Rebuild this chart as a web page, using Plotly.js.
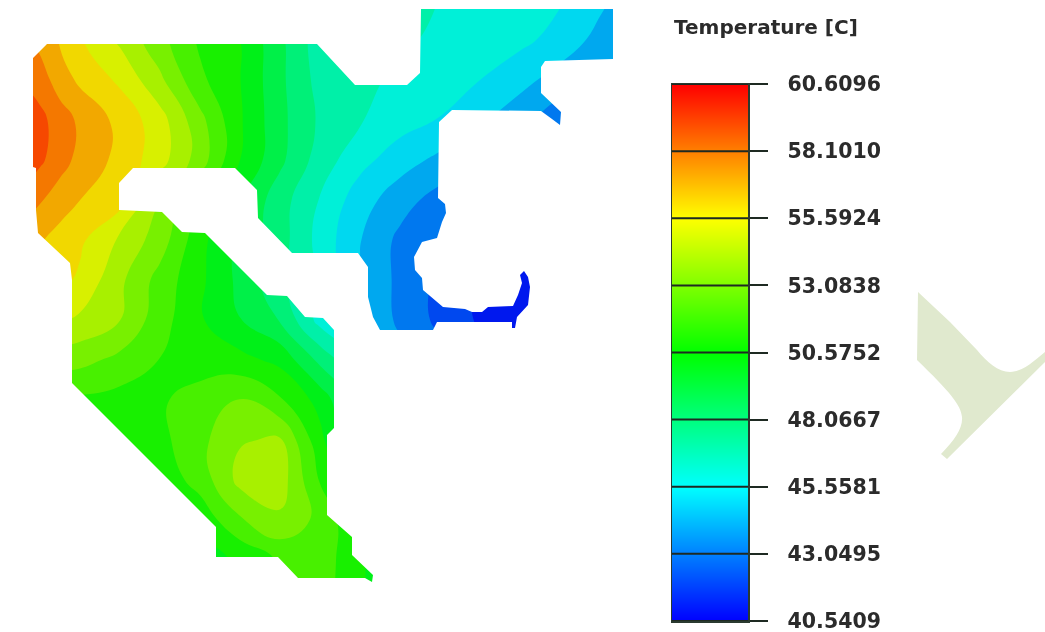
<!DOCTYPE html>
<html>
<head>
<meta charset="utf-8">
<script src="https://cdn.plot.ly/plotly-3.0.1.min.js"></script>
<style>html,body{margin:0;padding:0;background:#fff}#chart{filter:blur(0.5px)}</style>
</head>
<body>
<div id="chart" style="width:1045px;height:632px"></div>
<script>
// Temperature samples, on a grid in image units
var gridX = [20,40,60,80,120,160,200,240,280,320,360,400,440,480,520,560,600,640];
var gridY = [0,40,80,120,160,200,240,280,320,360,400,440,480,520,560,600];
var temperature = [
[58.2,57.4,56.5,55.6,54.1,52.6,51.0,50.2,48.4,47.2,47.0,46.8,46.55,46.3,46.1,45.65,44.8,43.8],
[58.0,57.3,56.5,55.7,54.4,52.9,51.4,50.58,48.8,47.0,46.9,46.7,46.4,46.0,45.8,45.2,44.2,43.2],
[58.6,58.1,57.1,56.4,55.4,53.8,51.8,50.6,48.8,47.2,46.9,46.3,46.1,45.56,44.9,44.1,43.6,43.0],
[59.8,58.9,58.1,57.4,56.3,55.0,52.9,50.7,48.85,47.4,46.65,46.0,45.5,44.7,43.9,42.9,42.4,42.0],
[59.6,58.8,58.0,57.3,56.3,55.0,53.1,50.58,48.8,47.1,45.9,45.0,44.3,43.4,43.0,42.6,42.3,42.0],
[58.3,57.7,57.1,56.6,56.0,53.6,51.5,49.6,48.0,46.5,45.0,44.0,43.1,42.6,42.0,42.0,42.0,42.0],
[57.2,56.7,56.2,55.8,54.4,53.1,50.9,49.3,48.0,46.2,44.6,43.3,42.5,42.0,41.5,41.3,41.3,41.3],
[56.4,56.2,55.9,55.4,53.8,52.2,50.8,49.3,47.8,46.5,44.5,43.3,42.3,41.4,41.0,40.9,40.9,40.9],
[55.2,54.9,54.7,54.4,53.6,52.0,50.7,49.6,48.5,46.2,44.8,43.3,42.3,41.4,41.0,40.9,40.9,40.9],
[53.2,53.1,53.0,52.9,52.3,51.55,51.1,50.9,50.3,48.3,46.5,44.0,43.0,42.0,41.5,41.2,41.0,41.0],
[51.5,51.5,51.45,51.4,51.2,51.45,52.0,52.65,51.7,50.2,48.0,45.0,44.0,43.0,42.0,42.0,42.0,42.0],
[51.0,51.0,51.0,51.0,51.0,51.3,52.3,53.5,53.7,50.9,48.0,46.0,45.0,44.0,43.0,43.0,43.0,43.0],
[50.8,50.8,50.8,50.8,50.8,50.9,52.0,53.9,54.1,51.5,49.5,47.0,46.0,45.0,44.0,44.0,44.0,44.0],
[50.5,50.5,50.5,50.5,50.5,50.6,50.9,52.45,53.4,52.3,50.6,48.0,47.0,46.0,45.0,45.0,45.0,45.0],
[50.0,50.0,50.0,50.0,50.0,50.0,50.2,50.7,51.7,52.1,50.8,49.0,48.0,47.0,46.0,46.0,46.0,46.0],
[50.0,50.0,50.0,50.0,50.0,50.0,50.3,50.5,51.6,52.0,50.8,49.0,48.0,47.0,46.0,46.0,46.0,46.0]
];
// Outline of the part, clockwise
var outlineX = [47,317,355,407,420,421,613,613,545,541,541,561,560,552,541,452,439,438,445,446,442,437,422,414,415,422,423,443,465,472,482,488,513,518,522,520,524,528,530,528,517,515,512,512,437,433,380,373,368,368,358,292,258,257,235,133,119,119,162,182,205,267,287,305,323,334,334,327,327,352,352,373,372,365,298,278,216,216,72,72,70,38,36,36,33,33,47];
var outlineY = [44,44,85,85,73,9,9,59,61,67,93,112,125,119,111,110,122,198,204,213,222,238,242,257,270,278,290,307,309,312,312,307,306,295,283,275,271,277,287,305,317,328,328,322,322,330,330,317,297,267,253,253,218,190,168,168,183,210,212,232,233,295,296,317,318,330,428,435,515,537,555,575,582,578,578,557,557,527,383,280,263,233,210,168,167,58,44];

var tickValues = [40.5409,43.0495,45.5581,48.0667,50.5752,53.0838,55.5924,58.1010,60.6096];
var tickLabels = ["40.5409","43.0495","45.5581","48.0667","50.5752","53.0838","55.5924","58.1010","60.6096"];
var bandCount = 20;
var barScale = [[0,"#0000ff"],[0.25,"#00ffff"],[0.5,"#00ff00"],[0.75,"#ffff00"],[1,"#ff0000"]];
var mapScale = [[0,"#0000ee"],[0.25,"#00f0f0"],[0.5,"#00f000"],[0.75,"#f0f000"],[1,"#f80000"]];
var titleText = "Temperature [C]";

var zMin = tickValues[0], zMax = tickValues[tickValues.length-1];

var maskX = [0,0,650,650,0].concat(outlineX,[0]);
var maskY = [0,632,632,0,0].concat(outlineY,[0]);

var tickLineX = [], tickLineY = [];
tickValues.forEach(function(v){ tickLineX.push(0,1,null); tickLineY.push(v,v,null); });

var traces = [
  {type:"contour", x:gridX, y:gridY, z:temperature, colorscale:mapScale, zmin:zMin, zmax:zMax,
   autocontour:false, contours:{start:zMin, end:zMax, size:(zMax-zMin)/bandCount, coloring:"fill", showlines:false},
   line:{width:0, smoothing:1.3}, showscale:false, hoverinfo:"skip"},
  {type:"scatter", mode:"lines", x:maskX, y:maskY, fill:"toself", fillcolor:"#ffffff",
   line:{width:0, color:"#ffffff"}, hoverinfo:"skip", showlegend:false},
  {type:"heatmap", xaxis:"x2", yaxis:"y2", x:[0,1], y:tickValues,
   z:tickValues.map(function(v){return [v,v];}), zsmooth:"best", colorscale:barScale, zmin:zMin, zmax:zMax,
   showscale:false, hoverinfo:"skip"},
  {type:"scatter", mode:"lines", xaxis:"x2", yaxis:"y2", x:tickLineX, y:tickLineY,
   line:{color:"#1e2a22", width:2}, hoverinfo:"skip", showlegend:false}
];

var layout = {
  width:1045, height:632, autosize:false, showlegend:false,
  margin:{l:0,r:0,t:0,b:0,pad:0}, paper_bgcolor:"#ffffff", plot_bgcolor:"rgba(0,0,0,0)",
  xaxis:{range:[0,1045], domain:[0,1], visible:false, fixedrange:true},
  yaxis:{range:[632,0], domain:[0,1], visible:false, fixedrange:true},
  xaxis2:{domain:[672/1045,748/1045], range:[0,1], anchor:"y2", showticklabels:false, ticks:"",
          showgrid:false, zeroline:false, showline:true, mirror:true, linecolor:"#2a3a30", linewidth:1.5, fixedrange:true},
  yaxis2:{domain:[1-621/632,1-84/632], range:[zMin,zMax], anchor:"x2", side:"right",
          tickmode:"array", tickvals:tickValues, ticktext:tickLabels, ticks:"outside", ticklen:18, tickwidth:2, tickcolor:"#1e2a22",
          showgrid:false, zeroline:false, showline:true, mirror:true, linecolor:"#2a3a30", linewidth:1.5, fixedrange:true,
          ticklabelposition:"outside", ticklabeloverflow:"allow", ticklabelstandoff:16, automargin:false,
          tickfont:{family:"DejaVu Sans", size:20.5, color:"#2b2b2b", weight:700}},
  shapes:[{type:"path", xref:"x", yref:"y", layer:"below", line:{width:0}, fillcolor:"#e0e9ce",
           path:"M 918 292 L 950 322 L 977 350 C 987 362 998 372 1010 372 C 1022 372 1033 362 1045 352 L 1045 362 L 947 459 L 941 454 C 955 440 963 428 962 417 C 961 405 950 392 917 360 Z"}],
  annotations:[{xref:"paper", yref:"paper", x:672/1045, y:1-27/632, xanchor:"left", yanchor:"middle", showarrow:false,
                text:titleText, font:{family:"DejaVu Sans", size:20, color:"#2b2b2b", weight:700}}]
};
Plotly.newPlot("chart", traces, layout, {displayModeBar:false, staticPlot:true});
</script>
</body>
</html>
